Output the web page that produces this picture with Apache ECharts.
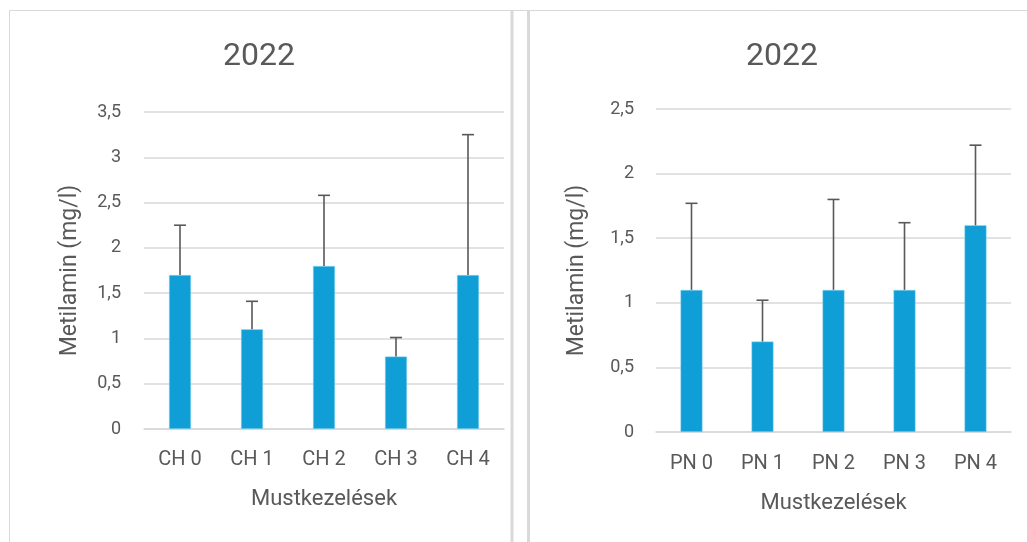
<!DOCTYPE html>
<html>
<head>
<meta charset="utf-8">
<script src="https://cdn.jsdelivr.net/npm/echarts@6/dist/echarts.min.js"></script>
<style>
  html, body { margin: 0; padding: 0; background: #fff; }
  #main { width: 1027px; height: 542px; }
</style>
</head>
<body>
<div id="main"></div>
<script>
// adatok
const chCategories = ['CH 0', 'CH 1', 'CH 2', 'CH 3', 'CH 4'];
const chValues = [1.7, 1.1, 1.8, 0.8, 1.7];
const chErrors = [0.55, 0.31, 0.78, 0.21, 1.55];

const pnCategories = ['PN 0', 'PN 1', 'PN 2', 'PN 3', 'PN 4'];
const pnValues = [1.1, 0.7, 1.1, 1.1, 1.6];
const pnErrors = [0.67, 0.32, 0.7, 0.52, 0.62];

const titleText = '2022';
const yName = 'Metilamin (mg/l)';
const xName = 'Mustkezelések';

const textColor = '#595959';
const barColor = '#0f9ed5';
const fontFam = 'Roboto, sans-serif';

const chart = echarts.init(document.getElementById('main'));

// hibasáv rajzolás
function errorBar(params, api) {
  const x = api.value(0);
  const top = api.coord([x, api.value(1) + api.value(2)]);
  const base = api.coord([x, api.value(1)]);
  const style = { stroke: textColor, lineWidth: 1.6 };
  return {
    type: 'group',
    children: [
      { type: 'line', shape: { x1: top[0], y1: top[1], x2: base[0], y2: base[1] }, style: style },
      { type: 'line', shape: { x1: top[0] - 6, y1: top[1], x2: top[0] + 6, y2: top[1] }, style: style }
    ]
  };
}

function yAxisOpt(gridIndex, max, gap, margin) {
  return {
    type: 'value',
    gridIndex: gridIndex,
    min: 0,
    max: max,
    interval: 0.5,
    name: yName,
    nameLocation: 'middle',
    nameGap: gap,
    nameTextStyle: { color: textColor, fontSize: 23, fontFamily: fontFam },
    axisLabel: {
      color: textColor, fontSize: 18, fontFamily: fontFam, margin: margin,
      formatter: v => String(v).replace('.', ',')
    },
    splitLine: { lineStyle: { color: '#d9d9d9', width: 1.5 } },
    axisLine: { show: false },
    axisTick: { show: false }
  };
}

function xAxisOpt(gridIndex, cats, gap, margin) {
  return {
    type: 'category',
    gridIndex: gridIndex,
    data: cats,
    name: xName,
    nameLocation: 'middle',
    nameGap: gap,
    nameTextStyle: { color: textColor, fontSize: 22, fontFamily: fontFam },
    axisLabel: { color: textColor, fontSize: 20, fontFamily: fontFam, margin: margin },
    axisLine: { lineStyle: { color: '#d9d9d9', width: 1.5 } },
    axisTick: { show: false }
  };
}

const option = {
  animation: false,
  backgroundColor: '#fff',
  graphic: [
    { type: 'rect', shape: { x: 9.5, y: 10.5, width: 502, height: 540 }, style: { fill: 'none', stroke: '#d9d9d9', lineWidth: 1 } },
    { type: 'line', shape: { x1: 512, y1: 10, x2: 512, y2: 542 }, style: { stroke: '#d9d9d9', lineWidth: 3 } },
    { type: 'line', shape: { x1: 512, y1: 10.5, x2: 1027, y2: 10.5 }, style: { stroke: '#d9d9d9', lineWidth: 1 } },
    { type: 'line', shape: { x1: 528.5, y1: 10, x2: 528.5, y2: 542 }, style: { stroke: '#d9d9d9', lineWidth: 3 } }
  ],
  title: [
    { text: titleText, left: 254, top: 36, textAlign: 'center',
      textStyle: { color: textColor, fontSize: 32, fontWeight: 'normal', fontFamily: fontFam } },
    { text: titleText, left: 777, top: 36, textAlign: 'center',
      textStyle: { color: textColor, fontSize: 32, fontWeight: 'normal', fontFamily: fontFam } }
  ],
  grid: [
    { left: 144, top: 112, width: 360, height: 317 },
    { left: 656, top: 109, width: 355, height: 323 }
  ],
  xAxis: [xAxisOpt(0, chCategories, 59, 21), xAxisOpt(1, pnCategories, 60, 22)],
  yAxis: [yAxisOpt(0, 3.5, 62, 23), yAxisOpt(1, 2.5, 67, 22)],
  series: [
    { type: 'bar', xAxisIndex: 0, yAxisIndex: 0, data: chValues, barWidth: 22,
      itemStyle: { color: barColor, borderColor: '#9fdcf2', borderWidth: 0.5 } },
    { type: 'custom', xAxisIndex: 0, yAxisIndex: 0, renderItem: errorBar, z: 5,
      data: chValues.map((v, i) => [i, v, chErrors[i]]) },
    { type: 'bar', xAxisIndex: 1, yAxisIndex: 1, data: pnValues, barWidth: 22,
      itemStyle: { color: barColor, borderColor: '#9fdcf2', borderWidth: 0.5 } },
    { type: 'custom', xAxisIndex: 1, yAxisIndex: 1, renderItem: errorBar, z: 5,
      data: pnValues.map((v, i) => [i, v, pnErrors[i]]) }
  ]
};

chart.setOption(option);
</script>
</body>
</html>
